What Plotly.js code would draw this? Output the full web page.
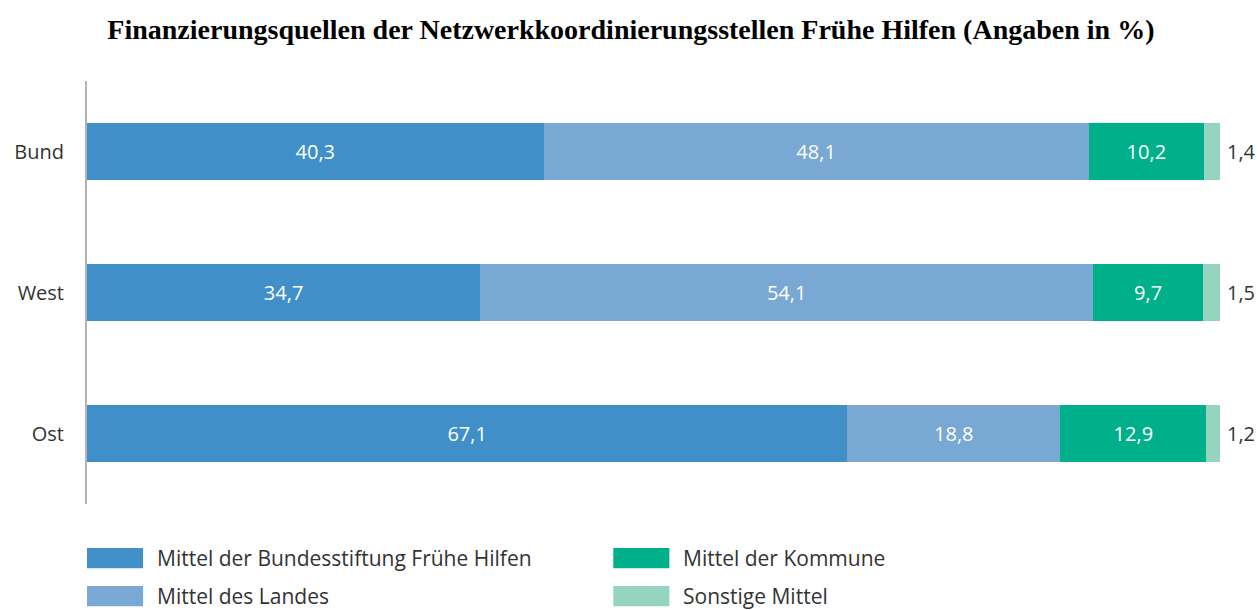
<!DOCTYPE html>
<html><head><meta charset="utf-8">
<script src="https://cdn.plot.ly/plotly-3.0.1.min.js"></script>
<style>html,body{margin:0;padding:0;background:#fff;}#chart{width:1258px;height:610px;}</style>
</head><body><div id="chart"></div>
<script>
const categories = ["Bund", "West", "Ost"];
const seriesNames = ["Mittel der Bundesstiftung Frühe Hilfen", "Mittel des Landes", "Mittel der Kommune", "Sonstige Mittel"];
const bundesstiftung = [40.3, 34.7, 67.1];
const landes = [48.1, 54.1, 18.8];
const kommune = [10.2, 9.7, 12.9];
const sonstige = [1.4, 1.5, 1.2];
const colors = ["#418fc8", "#7aa8d4", "#00b08b", "#95d4bf"];

const FONT = "Open Sans, Liberation Sans, sans-serif";
const allSeries = [bundesstiftung, landes, kommune, sonstige];
const fmt = v => v.toFixed(1).replace(".", ",");
const traces = allSeries.map((vals, i) => ({
  type: "bar", orientation: "h", name: seriesNames[i],
  y: categories, x: vals,
  marker: {color: colors[i], line: {width: 0}},
  text: vals.map(fmt),
  texttemplate: "%{text}",
  textposition: i === 3 ? "none" : "inside",
  insidetextanchor: "middle",
  textfont: {family: FONT, size: 20, color: "#ffffff"},
  hoverinfo: "skip",
  showlegend: false
}));

const shapes = [];
const annotations = [];
// labels for the small last segment, placed at the end of each stack
categories.forEach((c, k) => {
  const total = Math.round(allSeries.reduce((s, arr) => s + arr[k], 0) * 10) / 10;
  annotations.push({xref: "x", yref: "y", x: total, y: c, xanchor: "left", yanchor: "middle",
    xshift: 5, showarrow: false, text: fmt(sonstige[k]),
    font: {family: FONT, size: 20, color: "#333333"}});
});
// legend drawn as shapes + annotations in paper coordinates
const legendPos = [[0, -0.128], [0, -0.218], [0.4645, -0.128], [0.4645, -0.218]];
seriesNames.forEach((name, i) => {
  const p = legendPos[i];
  shapes.push({type: "rect", xref: "paper", yref: "paper",
    x0: p[0], x1: p[0] + 0.0495, y0: p[1] - 0.024, y1: p[1] + 0.024,
    fillcolor: colors[i], line: {width: 0}});
  annotations.push({xref: "paper", yref: "paper", x: p[0] + 0.06, y: p[1],
    xanchor: "left", yanchor: "middle", showarrow: false, text: name,
    font: {family: FONT, size: 21, color: "#333333"}});
});

const layout = {
  width: 1258, height: 610,
  margin: {l: 87, r: 38, t: 81, b: 106},
  paper_bgcolor: "#ffffff", plot_bgcolor: "#ffffff",
  separators: ",.",
  title: {text: "<b>Finanzierungsquellen der Netzwerkkoordinierungsstellen Frühe Hilfen (Angaben in %)</b>",
    font: {family: "Liberation Serif, Times New Roman, serif", size: 28, color: "#000000"},
    x: 0.5015, xanchor: "center", y: 0.952, yanchor: "middle", xref: "container"},
  barmode: "stack", bargap: 0.59,
  xaxis: {range: [0, 100], visible: false, fixedrange: true},
  yaxis: {categoryorder: "array", categoryarray: categories.slice().reverse(),
    autorange: false, range: [-0.5, 2.5],
    showline: true, linecolor: "#b3b3b3", linewidth: 2, showgrid: false, zeroline: false,
    ticks: "", ticklabelstandoff: 17,
    tickfont: {family: FONT, size: 20, color: "#333333"}},
  showlegend: false,
  shapes: shapes, annotations: annotations
};
Plotly.newPlot("chart", traces, layout, {displayModeBar: false, staticPlot: true});
</script></body></html>
